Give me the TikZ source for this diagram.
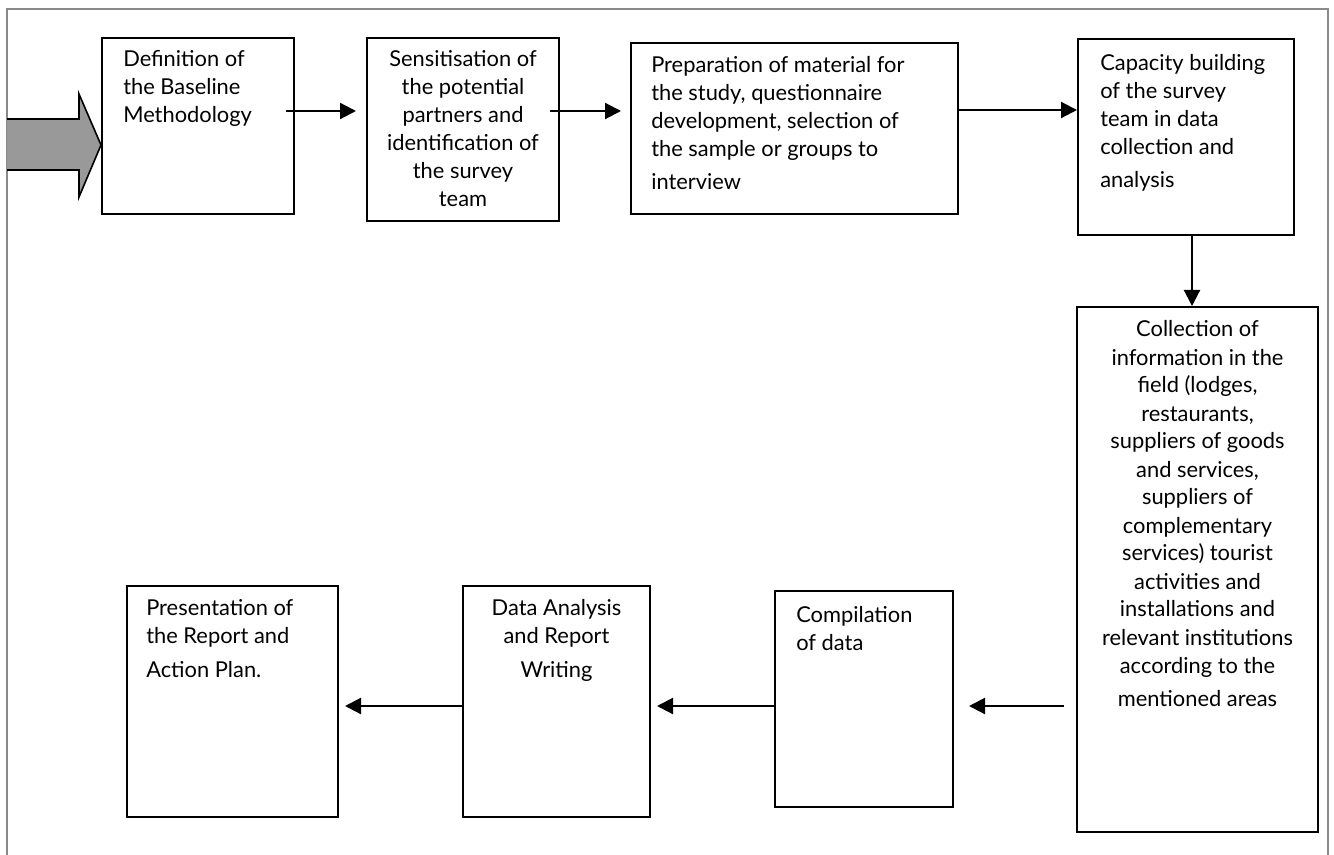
\documentclass[tikz,border=0pt]{standalone}
\usepackage{fontspec}
\setmainfont{Lato}
\usetikzlibrary{arrows.meta,calc}
\definecolor{framegray}{HTML}{8A8A8A}
\definecolor{arrowgray}{HTML}{999999}
\tikzset{
  box/.style={draw=black, line width=1.5pt, rectangle, inner sep=0pt, fill=white},
  arr/.style={draw=black, line width=1.6pt, -{Triangle[length=12pt,width=12pt]}},
  lbl/.style={inner sep=0pt, font=\fontsize{16.4pt}{21pt}\selectfont},
}
\newcommand{\bw}[1]{#1*0.75pt}
\begin{document}
\begin{tikzpicture}[x=0.75pt,y=-0.75pt]
\useasboundingbox (0,0) rectangle (1334,855);
% outer frame
\draw[framegray, line width=1.5pt] (7,855) -- (7,9) -- (1328,9) -- (1328,855);
% boxes
\node[box, minimum width=\bw{192}, minimum height=\bw{176}] (b1) at (198,126) {};
\node[box, minimum width=\bw{192}, minimum height=\bw{183}] (b2) at (463,129.5) {};
\node[box, minimum width=\bw{327}, minimum height=\bw{171}] (b3) at (794.5,128.5) {};
\node[box, minimum width=\bw{216}, minimum height=\bw{196}] (b4) at (1186,137) {};
\node[box, minimum width=\bw{241}, minimum height=\bw{525}] (b5) at (1197.5,569.5) {};
\node[box, minimum width=\bw{178}, minimum height=\bw{216}] (b6) at (864,699) {};
\node[box, minimum width=\bw{187}, minimum height=\bw{231}] (b7) at (556.5,701.5) {};
\node[box, minimum width=\bw{211}, minimum height=\bw{231}] (b8) at (232.5,701.5) {};
% big entry arrow
\draw[black, line width=1.2pt, fill=arrowgray, line join=miter]
  (7,119) -- (79,119) -- (79,94) -- (b1.west |- 0,145) -- (79,197) -- (79,170) -- (7,170);
% texts
\node[lbl, anchor=base west] (t1) at ($(b1.north west)+(22,30)$)
  {\begin{tabular}[t]{@{}l@{}}Definition of\\ the Baseline\\ Methodology\end{tabular}};
\node[lbl, anchor=base] (t2) at ($(b2.north)+(0,30)$)
  {\begin{tabular}[t]{@{}c@{}}Sensitisation of\\ the potential\\ partners and\\ identification of\\ the survey\\ team\end{tabular}};
\node[lbl, anchor=base west] (t3) at ($(b3.north west)+(21,31)$)
  {\begin{tabular}[t]{@{}l@{}}Preparation of material for\\ the study, questionnaire\\ development, selection of\\ the sample or groups to\\[3.75pt] interview\end{tabular}};
\node[lbl, anchor=base west] (t4) at ($(b4.north west)+(23,33)$)
  {\begin{tabular}[t]{@{}l@{}}Capacity building\\ of the survey\\ team in data\\ collection and\\[3.75pt] analysis\end{tabular}};
\node[lbl, anchor=base] (t5) at ($(b5.north)+(0,31)$)
  {\begin{tabular}[t]{@{}c@{}}Collection of\\ information in the\\ field (lodges,\\ restaurants,\\ suppliers of goods\\ and services,\\ suppliers of\\ complementary\\ services) tourist\\ activities and\\ installations and\\ relevant institutions\\ according to the\\[3.75pt] mentioned areas\end{tabular}};
\node[lbl, anchor=base west] (t6) at ($(b6.north west)+(22,32)$)
  {\begin{tabular}[t]{@{}l@{}}Compilation\\ of data\end{tabular}};
\node[lbl, anchor=base] (t7) at ($(b7.north)+(0,30)$)
  {\begin{tabular}[t]{@{}c@{}}Data Analysis\\ and Report\\[4.5pt] Writing\end{tabular}};
\node[lbl, anchor=base west] (t8) at ($(b8.north west)+(20,30)$)
  {\begin{tabular}[t]{@{}l@{}}Presentation of\\ the Report and\\[4.5pt] Action Plan.\end{tabular}};
% connectors
\coordinate (c45) at ($(b4.south)+(6,0)$);
\draw[arr] ($(b1.north east)+(-9,74)$) -- ($(b2.north west)+(-10,74)$);
\draw[arr] ($(b2.north east)+(-10,74)$) -- ($(b3.north west)+(-9,69)$);
\draw[arr] ($(b3.north east)+(0,68)$) -- ($(b4.north west)+(0,72)$);
\draw[arr] (c45) -- (c45 |- b5.north);
\draw[arr] ($(b5.west)+(-12,136.5)$) -- ($(b6.east)+(15,7)$);
\draw[arr] ($(b6.west)+(0,7)$) -- ($(b7.east)+(6,4.5)$);
\draw[arr] ($(b7.west)+(0,4.5)$) -- ($(b8.east)+(6,4.5)$);
\end{tikzpicture}
\end{document}
